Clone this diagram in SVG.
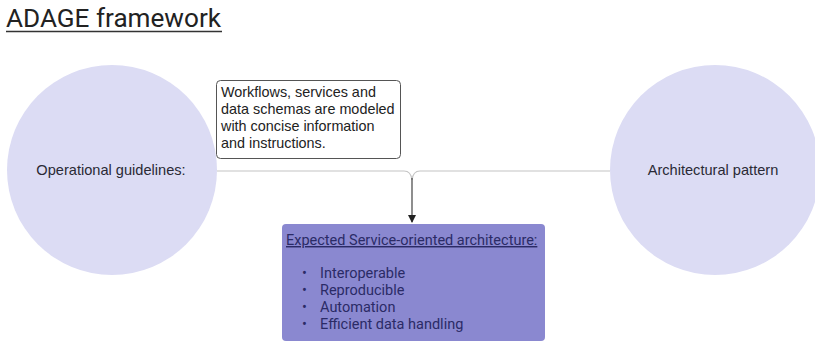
<svg xmlns="http://www.w3.org/2000/svg" width="815" height="341" viewBox="0 0 815 341">
<style>
text{font-family:Roboto,"Liberation Sans",sans-serif}
.circ{fill:#dcdcf4}
.lbl{font-size:14.6px;fill:#2a2a35;font-family:"Liberation Sans",Arial,sans-serif}
.note{font-size:14.4px;fill:#222;font-family:"Liberation Sans",Arial,sans-serif}
.box{font-size:14.5px;fill:#2b2b66}
.conn{fill:none;stroke:#c4c4c4;stroke-width:1.2}
.arr{fill:none;stroke:#444;stroke-width:1.2}
</style>
<defs>
<marker id="ah" markerWidth="8" markerHeight="10" refX="7" refY="5" orient="auto" markerUnits="userSpaceOnUse">
<path d="M0,1 L8,5 L0,9 Z" fill="#222"/>
</marker>
</defs>
<rect width="815" height="341" fill="#fff"/>
<g id="title">
<text x="6" y="27" font-size="26.5" fill="#222" textLength="215" lengthAdjust="spacingAndGlyphs">ADAGE framework</text>
<line x1="6" y1="31.5" x2="222" y2="31.5" stroke="#333" stroke-width="1.3"/>
</g>
<g id="connectors">
<path class="conn" d="M217,171 H404 Q411,171 412,180"/>
<path class="conn" d="M610,171 H420 Q413,171 412,180"/>
<path class="arr" d="M412,178 V222" marker-end="url(#ah)"/>
</g>
<g id="operational">
<circle class="circ" cx="112" cy="170" r="105"/>
<text class="lbl" x="111" y="175" text-anchor="middle">Operational guidelines:</text>
</g>
<g id="architectural">
<circle class="circ" cx="715" cy="170" r="105"/>
<text class="lbl" x="713" y="175" text-anchor="middle">Architectural pattern</text>
</g>
<g id="note">
<rect x="216.5" y="80.5" width="184" height="78" rx="4" fill="#fff" stroke="#555" stroke-width="1"/>
<text class="note" x="221" y="97">Workflows, services and</text>
<text class="note" x="221" y="114">data schemas are modeled</text>
<text class="note" x="221" y="131">with concise information</text>
<text class="note" x="221" y="148">and instructions.</text>
</g>
<g id="soa">
<rect x="282" y="224" width="263" height="117" rx="4" fill="#8a88d0"/>
<text class="box" x="286" y="245" text-decoration="underline">Expected Service-oriented architecture:</text>
<text class="box" x="302" y="278">•</text>
<text class="box" x="320" y="278">Interoperable</text>
<text class="box" x="302" y="295">•</text>
<text class="box" x="320" y="295">Reproducible</text>
<text class="box" x="302" y="312">•</text>
<text class="box" x="320" y="312">Automation</text>
<text class="box" x="302" y="329">•</text>
<text class="box" x="320" y="329">Efficient data handling</text>
</g>
</svg>
